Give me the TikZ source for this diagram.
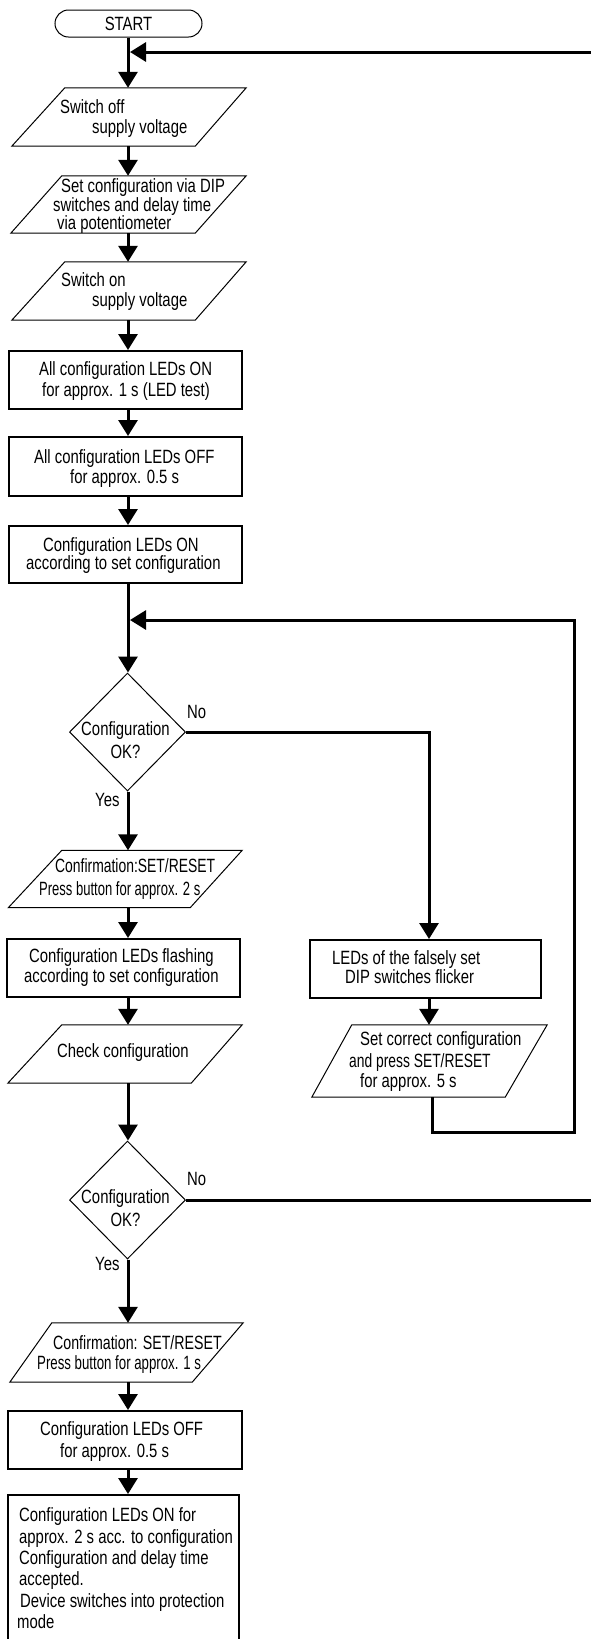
\documentclass[tikz,border=0pt]{standalone}
\usepackage{fontspec}
\setmainfont{Liberation Sans}[FakeStretch=0.775]
\usepackage{graphicx}
\usetikzlibrary{arrows.meta,shapes.geometric,calc}

\begin{document}
\begin{tikzpicture}[x=1pt,y=-1pt,
  flow/.style={line width=3pt,-{Triangle[length=16pt,width=19pt]}},
  wire/.style={line width=3pt},
  procbox/.style={draw,line width=2pt,rectangle,inner sep=0pt},
  iobox/.style={rectangle,inner sep=0pt},
  ioedge/.style={draw,line width=1pt,line join=miter},
  decide/.style={draw,diamond,line width=1pt,inner sep=0pt,
    minimum width=116pt,minimum height=118pt},
  termbox/.style={draw,line width=1pt,rectangle,rounded corners=13.5pt,
    inner sep=0pt,minimum width=147pt,minimum height=27pt,
    font=\fontsize{19.2pt}{21.4pt}\selectfont},
  txt/.style={inner sep=0pt,font=\fontsize{19.2pt}{21.4pt}\selectfont},
  tl/.style={txt,anchor=base west},
  tc/.style={txt,anchor=base}]

\fill[white] (0,0) rectangle (591,1639);
\useasboundingbox (0,0) rectangle (591,1639);

% guide coordinates
\coordinate (spine) at (128,0);
\coordinate (rx) at (429,0);
\coordinate (lx) at (432,0);
\coordinate (m0) at (130,52);
\coordinate (e0) at (600,52);
\coordinate (m1) at (130,620);
\coordinate (lc) at (574,1132);
\coordinate (e1) at (600,1200);

% ---------- main column ----------
\node[termbox] (start) at (128.5,23.5) {START};

\node[iobox,minimum width=234pt,minimum height=58pt] (p1) at (129,117) {};
\draw[ioedge] ($(p1.north west)+(53,0)$) -- (p1.north east)
  -- ($(p1.south east)+(-51,0)$) -- (p1.south west) -- cycle;
\node[tl] (t1a) at (60,113) {Switch off};
\node[tl] (t1b) at (92,133) {supply voltage};

\node[iobox,minimum width=235pt,minimum height=57pt] (p2) at (128.5,204.5) {};
\draw[ioedge] ($(p2.north west)+(51,0)$) -- (p2.north east)
  -- ($(p2.south east)+(-51,0)$) -- (p2.south west) -- cycle;
\node[tl] (t2a) at (61,192) {Set configuration via DIP};
\node[tl] (t2b) at (53,211) {switches and delay time};
\node[tl] (t2c) at (57,229) {via potentiometer};

\node[iobox,minimum width=234pt,minimum height=58pt] (p3) at (129,291) {};
\draw[ioedge] ($(p3.north west)+(53,0)$) -- (p3.north east)
  -- ($(p3.south east)+(-51,0)$) -- (p3.south west) -- cycle;
\node[tl] (t3a) at (61,286) {Switch on};
\node[tl] (t3b) at (92,306) {supply voltage};

\node[procbox,minimum width=233pt,minimum height=58pt] (r1) at (125.5,380) {};
\node[tl] (t4a) at (39,375) {All configuration LEDs ON};
\node[tl] (t4b) at (42,396) {for approx. 1 s (LED test)};

\node[procbox,minimum width=233pt,minimum height=59pt] (r2) at (125.5,466.5) {};
\node[tl] (t5a) at (34,463) {All configuration LEDs OFF};
\node[tl] (t5b) at (70,483) {for approx. 0.5 s};

\node[procbox,minimum width=233pt,minimum height=57pt] (r3) at (125.5,554.5) {};
\node[tl] (t6a) at (43,551) {Configuration LEDs ON};
\node[tl] (t6b) at (26,569) {according to set configuration};

\node[decide] (d1) at (127.5,732) {};
\node[tc] (t7a) at (125.5,735) {Configuration};
\node[tc] (t7b) at (125.5,758) {OK?};
\node[tl] (no1) at (187,718) {No};
\node[tl] (yes1) at (95,806) {Yes};

\node[iobox,minimum width=233.5pt,minimum height=57pt] (p4) at (125.25,879) {};
\draw[ioedge] ($(p4.north west)+(53.5,0)$) -- (p4.north east)
  -- ($(p4.south east)+(-52,0)$) -- (p4.south west) -- cycle;
\node[tl] (t8a) at (55,872) {\scalebox{0.935}[1]{Confirmation:SET/RESET}};
\node[tl] (t8b) at (39,895) {\scalebox{0.875}[1]{Press button for approx. 2 s}};

\node[procbox,minimum width=233pt,minimum height=58pt] (r4) at (123.5,968) {};
\node[tl] (t9a) at (29,962) {Configuration LEDs flashing};
\node[tl] (t9b) at (24,982) {according to set configuration};

\node[iobox,minimum width=234pt,minimum height=58pt] (p5) at (125,1054) {};
\draw[ioedge] ($(p5.north west)+(54,0)$) -- (p5.north east)
  -- ($(p5.south east)+(-51,0)$) -- (p5.south west) -- cycle;
\node[tl] (t10) at (57,1057) {Check configuration};

\node[decide] (d2) at (127.5,1200) {};
\node[tc] (t11a) at (125.5,1203) {Configuration};
\node[tc] (t11b) at (125.5,1226) {OK?};
\node[tl] (no2) at (187,1185) {No};
\node[tl] (yes2) at (95,1270) {Yes};

\node[iobox,minimum width=233pt,minimum height=59pt] (p6) at (126.5,1352.5) {};
\draw[ioedge] ($(p6.north west)+(42,0)$) -- (p6.north east)
  -- ($(p6.south east)+(-51,0)$) -- (p6.south west) -- cycle;
\node[tl] (t12a) at (53,1349) {\scalebox{0.954}[1]{Confirmation: SET/RESET}};
\node[tl] (t12b) at (37,1369) {\scalebox{0.89}[1]{Press button for approx. 1 s}};

\node[procbox,minimum width=234pt,minimum height=58pt] (r5) at (125,1440) {};
\node[tl] (t13a) at (40,1435) {Configuration LEDs OFF};
\node[tl] (t13b) at (60,1457) {for approx. 0.5 s};

\node[procbox,minimum width=231pt,minimum height=170pt] (r6) at (123.5,1580) {};
\node[tl] (t14a) at (19,1521) {Configuration LEDs ON for};
\node[tl] (t14b) at (19,1543) {approx. 2 s acc. to configuration};
\node[tl] (t14c) at (19,1564) {Configuration and delay time};
\node[tl] (t14d) at (19,1585) {accepted.};
\node[tl] (t14e) at (20,1607) {Device switches into protection};
\node[tl] (t14f) at (17,1628) {mode};

% ---------- correction branch ----------
\node[procbox,minimum width=231pt,minimum height=58pt] (rb1) at (425.5,969) {};
\node[tl] (t15a) at (332,964) {LEDs of the falsely set};
\node[tl] (t15b) at (345,983) {DIP switches flicker};

\node[iobox,minimum width=235pt,minimum height=72pt] (rb2) at (429.5,1061) {};
\draw[ioedge] ($(rb2.north west)+(40,0)$) -- (rb2.north east)
  -- ($(rb2.south east)+(-42,0)$) -- (rb2.south west) -- cycle;
\node[tl] (t16a) at (360,1045) {Set correct configuration};
\node[tl] (t16b) at (349,1067) {\scalebox{0.93}[1]{and press SET/RESET}};
\node[tl] (t16c) at (360,1087) {for approx. 5 s};

% ---------- connectors ----------
\draw[flow] (start.south -| spine) -- (p1.north -| spine);
\draw[flow] (p1.south -| spine) -- (p2.north -| spine);
\draw[flow] (p2.south -| spine) -- (p3.north -| spine);
\draw[flow] (p3.south -| spine) -- (r1.north -| spine);
\draw[flow] (r1.south -| spine) -- (r2.north -| spine);
\draw[flow] (r2.south -| spine) -- (r3.north -| spine);
\draw[flow] (r3.south -| spine) -- (d1.north -| spine);
\draw[flow] (d1.south -| spine) -- (p4.north -| spine);
\draw[flow] (p4.south -| spine) -- (r4.north -| spine);
\draw[flow] (r4.south -| spine) -- (p5.north -| spine);
\draw[flow] (p5.south -| spine) -- (d2.north -| spine);
\draw[flow] (d2.south -| spine) -- (p6.north -| spine);
\draw[flow] (p6.south -| spine) -- (r5.north -| spine);
\draw[flow] (r5.south -| spine) -- (r6.north -| spine);

\draw[flow] (d1.east) -| (rb1.north -| rx);
\draw[flow] (rb1.south -| rx) -- (rb2.north -| rx);
\draw[flow] (rb2.south -| lx) |- (lc) |- (m1);

\draw[flow] (e0) -- (m0);
\draw[wire] (d2.east) -- (e1);

\end{tikzpicture}
\end{document}
